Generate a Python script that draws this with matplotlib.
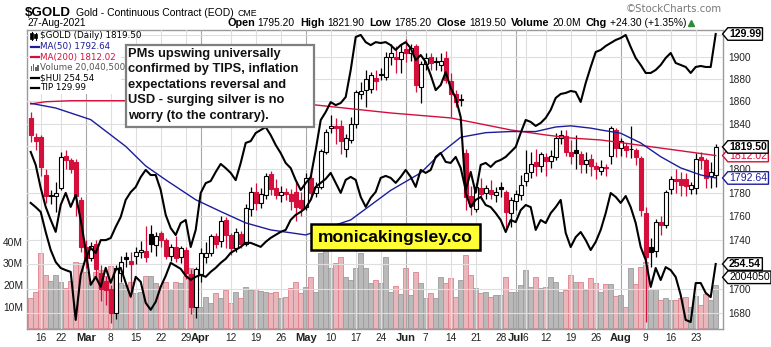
import numpy as np
import pandas as pd
import matplotlib
matplotlib.use('Agg')
import matplotlib.pyplot as plt
from matplotlib.path import Path
from matplotlib.patches import Rectangle
from matplotlib.lines import Line2D
from matplotlib.ticker import FixedLocator, NullLocator, FixedFormatter
import matplotlib.transforms as mtransforms

# ---------------- data ----------------
holidays = ['2021-02-15', '2021-04-02', '2021-05-31', '2021-07-05']
dates = pd.bdate_range('2021-02-11', '2021-08-27')
dates = dates[~dates.isin(pd.to_datetime(holidays))]

opens = [1845,1828,1828,1795,1778,1777,1784,1812,1808,1806,
         1774,1734,1725,1737,1713,1706,1700,1680,1713,1726,
         1723,1727,1730,1731,1745,1736,1746,1740,1727,1734,
         1726,1732,1712,1685,1712,1726,1729,1743,1739,1757,
         1744,1733,1745,1737,1766,1781,1771,1778,1796,1784,
         1778,1781,1779,1781,1774,1768,1793,1780,1785,1815,
         1836,1838,1838,1818,1826,1840,1866,1870,1871,1881,
         1884,1882,1900,1900,1898,1907,1903,1910,1873,1893,
         1900,1896,1892,1899,1878,1866,1861,1814,1777,1766,
         1784,1780,1782,1778,1785,1781,1763,1773,1778,1790,
         1798,1806,1803,1811,1807,1811,1827,1829,1815,1817,
         1813,1805,1809,1803,1799,1802,1812,1834,1819,1820,
         1818,1817,1810,1763,1734,1731,1755,1753,1783,1792,
         1792,1792,1783,1784,1811,1808,1794,1795.2]
highs = [1850,1832,1830,1800,1782,1789,1815,1817,1810,1809,
         1776,1740,1738,1740,1719,1710,1703,1719,1727,1730,
         1730,1734,1739,1752,1753,1747,1748,1742,1737,1743,
         1735,1734,1716,1718,1733,1738,1745,1746,1760,1759,
         1746,1750,1748,1770,1785,1788,1784,1797,1799,1792,
         1786,1784,1783,1790,1781,1797,1799,1789,1818,1835,
         1848,1845,1843,1831,1846,1870,1877,1888,1886,1888,
         1890,1904,1912,1910,1912,1916,1912,1912,1896,1903,
         1903,1900,1903,1905,1885,1870,1866,1818,1786,1788,
         1793,1787,1791,1785,1789,1782,1776,1782,1795,1817,
         1815,1818,1815,1814,1817,1832,1834,1834,1826,1830,
         1816,1815,1813,1806,1808,1805,1838,1836,1827,1823,
         1838,1819,1812,1768,1742,1758,1760,1782,1794,1800,
         1798,1797,1789,1814,1815,1810,1806,1821.9]
lows = [1824,1817,1794,1771,1770,1764,1782,1800,1797,1760,
        1730,1717,1723,1708,1690,1687,1672,1675,1705,1718,
        1698,1720,1725,1722,1730,1727,1734,1724,1723,1722,
        1721,1708,1679,1676,1705,1721,1727,1733,1734,1733,
        1728,1730,1733,1735,1760,1765,1767,1775,1778,1775,
        1772,1774,1765,1756,1760,1765,1775,1776,1783,1813,
        1832,1822,1813,1811,1823,1836,1862,1855,1867,1870,
        1879,1879,1892,1885,1885,1895,1896,1868,1858,1888,
        1888,1888,1887,1876,1846,1855,1856,1765,1761,1764,
        1775,1775,1775,1772,1776,1750,1751,1765,1774,1786,
        1793,1794,1798,1794,1801,1808,1822,1812,1805,1800,
        1797,1797,1794,1792,1795,1794,1805,1811,1812,1811,
        1810,1804,1760,1673,1718,1726,1744,1750,1779,1780,
        1777,1777,1779,1779,1800,1784,1784,1785.2]
closes = [1830,1825,1802,1777,1777.5,1780,1811,1808,1800,1777,
          1734,1725,1735,1716,1700,1699,1680,1717,1722,1724,
          1720,1730,1731.5,1726,1737,1743,1740,1727,1734,1725,
          1733,1713,1685,1716,1729,1729.5,1743,1737,1756,1744,
          1733,1747,1737,1767,1781,1771,1779,1794,1783,1778,
          1781,1779,1773,1768,1767,1793,1780,1785,1816,1833,
          1838,1836,1825,1827,1840,1868,1869,1880,1883,1878,
          1883,1900,1903,1898,1904,1903,1908,1874,1893,1899,
          1894,1895.5,1896,1879,1866,1859,1862,1776,1769,1785,
          1779,1784,1779,1781,1783,1764,1774,1779,1787,1797,
          1805,1803,1813,1807,1812,1827,1830,1815,1812,1814,
          1805,1808,1803,1800,1802,1801,1836,1819,1825,1817,
          1817.5,1811,1765,1726,1730,1755,1753,1781,1792,1790,
          1787,1786,1786.5,1809,1808.5,1793,1798,1819.5]
volume_m = [14,17,34.6,24.7,21.9,24.7,21.3,18.5,21.9,30.8,
            30,26,21,26,27,24,29,25.4,21.1,20,
            21.6,16.2,16.7,24.2,24.2,21,19.5,21.6,18,21.6,
            20.8,24,28,16.7,10,14.7,11.6,16.2,13.9,17.6,
            11.7,16.7,13.9,19.2,17.6,18,17.3,16.8,16.2,17,
            13.9,14.7,18.5,21.6,16.2,19.3,23.6,17,34.7,37.7,
            27.7,30,32.8,23.9,22.4,27.7,34.7,27.7,20.8,22.4,
            21,33,17,19.7,15.9,27.7,15.4,26.2,20.8,13.9,
            16.5,13.9,23.9,20.8,23.1,14.7,22.4,33.9,24.7,18.5,
            16.2,17,14.7,15.4,15.4,23.9,17,17,20,27,
            19,23.9,18.5,19.3,23.9,21.6,17,17.7,24.7,21.6,
            21.6,17.7,23.1,20.8,17,20.4,20.4,15,15.4,10,
            27.7,20.4,28.5,30.6,18.1,18.1,13.1,13.9,13.1,13.1,
            14,14.7,10,15,10.8,15.8,13.1,20.04]
hui = [274.9,273.5,271.9,265.2,259.2,255.2,253.2,252.5,251.9,235.9,
       250.9,256.5,259.9,258.2,262.5,262.5,263.2,266.9,270.2,275.9,
       278.5,280.2,283.5,285.9,284.2,284.2,279.2,270.9,266.5,264.2,
       268.2,269.2,260.2,265.9,278.2,281.5,282.2,285.2,287.9,286.5,
       284.9,282.5,288.2,294.9,295.5,298.2,299.2,300.2,297.5,294.2,
       291.5,288.2,286.5,282.5,279.2,281.5,283.5,292.5,302.5,305.2,
       308.5,307.5,308.2,310.2,319.2,330.2,330.9,328.5,327.5,328.5,
       328.2,328.5,327.5,325.9,327.5,328.5,326.5,322.5,324.2,321.9,
       317.5,312.5,314.2,318.5,313.2,309.9,303.5,278.2,273.5,275.9,
       276.9,274.2,273.5,271.5,269.2,265.2,269.2,268.5,272.5,274.2,
       273.5,265.9,269.2,268.2,271.5,273.5,275.9,264.9,260.2,263.5,
       265.2,262.5,259.2,261.9,265.9,271.5,278.2,276.9,274.9,277.2,
       273.5,268.2,260.2,255.9,246.9,253.2,249.2,253.5,252.5,250.2,
       244.2,235.9,235.2,248.2,248.2,244.9,243.5,254.54]
tip = [127.63,127.37,126.91,126.53,126.27,126.03,126.57,126.81,126.53,126.77,
       126.27,125.67,124.97,125.13,124.93,125.31,125.01,125.27,125.31,125.01,
       124.73,125.13,125.03,124.61,124.47,124.63,124.93,125.15,125.41,125.35,
       125.29,125.15,125.07,125.13,125.17,125.13,125.23,125.31,125.41,125.49,
       125.61,125.67,125.73,125.81,125.81,125.77,125.73,125.83,125.91,125.97,
       126.03,126.07,126.27,126.37,126.43,126.51,126.67,126.93,127.01,127.09,
       127.21,127.01,126.81,127.07,127.13,127.07,126.73,126.53,126.71,126.83,
       127.11,127.15,127.11,127.01,127.13,127.27,127.13,126.93,127.27,127.21,
       127.27,127.53,127.61,127.43,127.41,127.53,127.31,126.87,127.23,126.81,
       127.37,127.41,127.33,127.43,127.47,127.53,127.63,127.73,128.01,128.27,
       128.23,128.15,128.21,128.31,128.47,128.71,128.79,128.81,128.85,128.83,
       128.63,129.01,129.33,129.63,129.67,129.75,129.81,129.87,129.91,129.97,
       129.73,129.51,129.37,129.21,129.21,129.27,129.37,129.51,129.61,129.41,
       129.37,129.33,129.21,129.33,129.35,129.33,129.33,129.99]
ma50_idx = [0,5,12,19,23,27,33,38,43,48,55,64,72,78,82,86,91,96,101,105,108,112,114,118,122,126,130,134,137]
ma50_val = [1858,1853.8,1843.5,1820,1803,1791,1774,1764,1754.4,1748.5,1744.3,1756.9,1782,1797,1814,1828,
            1832,1833,1833,1837,1838,1836,1834.4,1831.5,1823,1811,1801.3,1795.2,1792.64]
ma200_idx = [0,3,8,24,57,72,84,96,103,108,114,120,124,137]
ma200_val = [1857.4,1859.4,1860.3,1860.3,1856.5,1849.4,1845,1834.4,1830,1827.3,1825.6,1822.1,1819.7,1812.02]

tick_dates = ['2021-02-16','2021-02-22','2021-03-01','2021-03-08','2021-03-15','2021-03-22','2021-03-29',
              '2021-04-01','2021-04-12','2021-04-19','2021-04-26','2021-05-03','2021-05-10','2021-05-17',
              '2021-05-24','2021-06-01','2021-06-07','2021-06-14','2021-06-21','2021-06-28','2021-07-01',
              '2021-07-06','2021-07-12','2021-07-19','2021-07-26','2021-08-02','2021-08-09','2021-08-16',
              '2021-08-23']
tick_labels = ['16','22','Mar','8','15','22','29','Apr','12','19','26','May','10','17','24','Jun','7','14',
               '21','28','Jul','6','12','19','26','Aug','9','16','23']
month_labels = ['Mar','Apr','May','Jun','Jul','Aug']
price_ticks = [1680,1700,1720,1740,1760,1780,1800,1820,1840,1860,1880,1900,1920]
price_labels = ['1680','1700','','1740','1760','1780','1800','','1840','1860','1880','1900','']
vol_ticks = [10,20,30,40]

# ---------------- figure ----------------
W, H = 771, 347
fig = plt.figure(figsize=(W/100, H/100), dpi=100)
fig.patch.set_facecolor('white')
plt.rcParams['font.family'] = ['Liberation Sans', 'DejaVu Sans']

def fx(x): return x / W
def fy(y): return 1 - y / H

PL, PR, PT, PB = 27.3, 722.7, 29.5, 329.3
rect = [fx(PL), fy(PB), (PR-PL)/W, (PB-PT)/H]
axv = fig.add_axes(rect)
ax = fig.add_axes(rect)
axh = fig.add_axes(rect)
axt = fig.add_axes(rect)
n = len(closes)
x = np.arange(n)
XL = (-0.68, 138.4)
for a in (axv, ax, axh, axt):
    a.set_xlim(*XL)
for a in (ax, axh, axt):
    a.patch.set_visible(False)
    for s in a.spines.values():
        s.set_visible(False)
    a.tick_params(axis='x', bottom=False, labelbottom=False)
for a in (axh, axt):
    a.set_yticks([])
for s in axv.spines.values():
    s.set_color('#9a9a9a')
    s.set_linewidth(1.0)

RED = '#d40f3c'
BLUE = '#1c1c9c'

# volume
closes_a = np.array(closes, float)
opens_a = np.array(opens, float)
prev = np.r_[closes_a[0] + 1, closes_a[:-1]]
down = closes_a < prev
vcol = ['#e8b6bb' if d else '#b9b9b9' for d in down]
vedge = ['#e0808c' if d else '#9c9c9c' for d in down]
axv.bar(x, volume_m, width=1.0, color=vcol, edgecolor=vedge, linewidth=0.6, zorder=2)
axv.set_ylim(-0.4, 137.8)
axv.yaxis.set_major_locator(FixedLocator(vol_ticks))
axv.yaxis.set_major_formatter(FixedFormatter([f'{v}M' for v in vol_ticks]))
axv.tick_params(axis='y', length=0, pad=3, labelsize=7.4, labelcolor='#222222')
pos = [dates.get_loc(pd.Timestamp(d)) for d in tick_dates]
axv.set_xticks(pos)
axv.set_xticklabels(tick_labels)
axv.tick_params(axis='x', length=0, pad=2.5, labelsize=7.3, labelcolor='#222222')
for t in axv.get_xticklabels():
    if t.get_text() in month_labels:
        t.set_fontweight('bold')
        t.set_fontsize(8)

# price
ax.set_yscale('log')
ax.set_ylim(1667.1, 1924.95)
ax.yaxis.set_major_locator(FixedLocator(price_ticks))
ax.yaxis.set_minor_locator(NullLocator())
ax.yaxis.set_major_formatter(FixedFormatter(price_labels))
ax.yaxis.set_minor_formatter(FixedFormatter([]))
ax.yaxis.tick_right()
ax.tick_params(axis='y', which='both', length=0, pad=4, labelsize=7.3, labelcolor='#222222')

# grid
for p, lab in zip(pos, tick_labels):
    ax.axvline(p, color='#a9a9a9' if lab in month_labels else '#dedede', lw=0.8, zorder=0.5)
for p in price_ticks:
    ax.axhline(p, color='#dedede', lw=0.8, zorder=0.5)

# candles
for i in range(n):
    o, h, l, c = opens_a[i], highs[i], lows[i], closes_a[i]
    col = RED if down[i] else 'black'
    filled = c < o
    ax.vlines(i, l, h, color=col, lw=0.9, zorder=3)
    bot, top = min(o, c), max(o, c)
    if top - bot < 0.6:
        top = bot + 0.6
    ax.add_patch(Rectangle((i - 0.38, bot), 0.76, top - bot, facecolor=col if filled else 'white',
                           edgecolor=col, lw=0.8, zorder=4))

ax.plot(ma200_idx, ma200_val, color=RED, lw=1.0, zorder=5)
ax.plot(ma50_idx, ma50_val, color=BLUE, lw=1.0, zorder=5)

# overlays
axh.set_ylim(232.77, 332.71)
axt.set_ylim(124.08, 130.08)
axh.plot(x, hui, color='black', lw=1.5, zorder=6)
axt.plot(x, tip, color='black', lw=1.5, zorder=6)

# value tags on right
def tag_style(x0, y0, width, height, mutation_size):
    pad = 0.12 * mutation_size
    x0 -= pad; y0 -= pad
    w = width + 2 * pad; h = height + 2 * pad
    tip_w = 0.42 * h
    verts = [(x0, y0), (x0 + w, y0), (x0 + w, y0 + h), (x0, y0 + h), (x0 - tip_w, y0 + h / 2), (x0, y0)]
    return Path(verts, [Path.MOVETO] + [Path.LINETO] * 4 + [Path.CLOSEPOLY])

def tag(src_ax, val, text, color='black', weight='normal', dy=0):
    tr = mtransforms.blended_transform_factory(axt.transAxes, src_ax.transData)
    axt.annotate(text, xy=(1.0, val), xycoords=tr, xytext=(4.6, dy), textcoords='offset points',
                 ha='left', va='center', fontsize=7.6, color=color, fontweight=weight,
                 annotation_clip=False, zorder=20,
                 bbox=dict(boxstyle=tag_style, fc='white', ec=color, lw=1.0))

tag(axt, tip[-1], f'{tip[-1]:.2f}', weight='bold')
tag(ax, ma200_val[-1], f'{ma200_val[-1]:.2f}', color=RED)
tag(ax, closes[-1], f'{closes[-1]:.2f}', weight='bold')
tag(ax, ma50_val[-1], f'{ma50_val[-1]:.2f}', color=BLUE)
tag(axh, hui[-1], f'{hui[-1]:.2f}', weight='bold')
tag(axv, volume_m[-1], '2004050', dy=5.5)

# ---------------- header ----------------
renderer = fig.canvas.get_renderer()

def seq(x0, yc, parts):
    cur = x0
    for s, kw, gap in parts:
        t = fig.text(fx(cur), fy(yc), s, ha='left', va='center', **kw)
        cur += t.get_window_extent(renderer).width + gap
    return cur

seq(25, 13.5, [('$GOLD', dict(fontsize=9.6, fontweight='bold'), 5),
               ('Gold - Continuous Contract (EOD)', dict(fontsize=7.5), 4),
               ('CME', dict(fontsize=6.3), 0)])
fig.text(fx(27), fy(23.5), '27-Aug-2021', fontsize=7.3, ha='left', va='center')
fig.text(fx(722), fy(9), '\u00a9StockCharts.com', fontsize=7.3, color='#777777', ha='right', va='center',
         family=['DejaVu Sans'])

b = dict(fontsize=7.8, fontweight='bold')
r = dict(fontsize=7.4)
parts = [('Open', b, 3), ('1795.20', r, 5), ('High', b, 3), ('1821.90', r, 5), ('Low', b, 3),
         ('1785.20', r, 5), ('Close', b, 3), ('1819.50', r, 5), ('Volume', b, 3), ('20.0M', r, 5),
         ('Chg', b, 3), ('+24.30 (+1.35%)', r, 2)]
endx = seq(227, 23.5, parts)
fig.add_artist(Line2D([fx(endx + 2.5)], [fy(22.5)], marker='^', markersize=4.5, color='#2e8b3a',
                      transform=fig.transFigure))

# ---------------- legend ----------------
LF = dict(fontsize=6.3, family=['DejaVu Sans'], ha='left', va='center')
rows = [36, 46.7, 57.3, 67.7, 78, 88]
fig.add_artist(Rectangle((fx(28.5), fy(94)), fx(92), 61 / H, transform=fig.transFigure,
                         facecolor='white', edgecolor='none', zorder=1))
fig.text(fx(40), fy(rows[0]), '$GOLD (Daily) 1819.50', color='black', zorder=2, **LF)
for xx, y0, y1, b0, b1 in [(31.5, 32, 40, 33.5, 38.5), (35.5, 32.5, 39.5, 34, 37.5)]:
    fig.add_artist(Line2D([fx(xx), fx(xx)], [fy(y0), fy(y1)], color='black', lw=0.8,
                          transform=fig.transFigure, zorder=2))
    fig.add_artist(Rectangle((fx(xx - 1.2), fy(b1)), 2.4 / W, (b1 - b0) / H, transform=fig.transFigure,
                             facecolor='black', edgecolor='black', lw=0.5, zorder=2))
items = [(rows[1], BLUE, 'MA(50) 1792.64'), (rows[2], RED, 'MA(200) 1812.02'),
         (rows[4], 'black', '$HUI 254.54'), (rows[5], 'black', 'TIP 129.99')]
for yy, c, s in items:
    fig.add_artist(Line2D([fx(30.5), fx(39)], [fy(yy), fy(yy)], color=c, lw=1.6,
                          transform=fig.transFigure, zorder=2))
    fig.text(fx(40.5), fy(yy), s, color=c, zorder=2, **LF)
for k, hh in enumerate([5, 7, 4, 6]):
    fig.add_artist(Rectangle((fx(30.5 + k * 2.2), fy(rows[3] + 3.5)), 1.6 / W, hh / H,
                             transform=fig.transFigure, facecolor='#666666', edgecolor='none', zorder=2))
fig.text(fx(40.5), fy(rows[3]), 'Volume 20,040,500', color='#555555', zorder=2, **LF)

# ---------------- annotation boxes ----------------
fig.add_artist(Rectangle((fx(125.7), fy(126.7)), (314.3 - 125.7) / W, (126.7 - 45) / H,
                         transform=fig.transFigure, facecolor='white', edgecolor='#7f7f7f', lw=1.6, zorder=3))
note = ['PMs upswing universally', 'confirmed by TIPS, inflation', 'expectations reversal and',
        'USD - surging silver is no', 'worry (to the contrary).']
for k, s in enumerate(note):
    fig.text(fx(128.5), fy(53.5 + k * 15.6), s, fontsize=9.3, fontweight='bold', ha='left', va='center',
             color='#111111', zorder=4)

fig.add_artist(Rectangle((fx(310.7), fy(250)), (480 - 310.7) / W, 26 / H, transform=fig.transFigure,
                         facecolor='#ffff33', edgecolor='black', lw=1.8, zorder=3))
fig.text(fx(395.3), fy(237.5), 'monicakingsley.co', fontsize=12.6, fontweight='bold', ha='center',
         va='center', color='black', zorder=4)

fig.savefig('out.png', dpi=100, facecolor='white')
